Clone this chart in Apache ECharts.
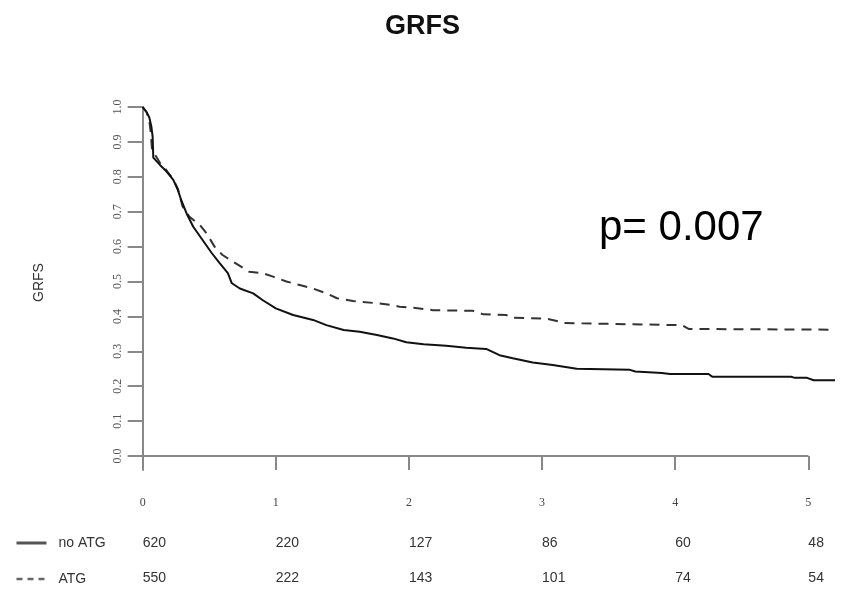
<!DOCTYPE html>
<html>
<head>
<meta charset="utf-8">
<script src="https://cdn.jsdelivr.net/npm/echarts@6/dist/echarts.min.js"></script>
<style>
  html, body { margin: 0; padding: 0; background: #fff; }
  #chart { width: 845px; height: 592px; }
</style>
</head>
<body>
<div id="chart"></div>
<script>
// survival curves (years, GRFS probability)
const noAtgTime = [0, 0.03, 0.05, 0.065, 0.075, 0.08, 0.13, 0.18, 0.23, 0.265, 0.29, 0.33, 0.38, 0.45, 0.52, 0.58, 0.64, 0.67, 0.73, 0.83, 0.90, 1.0, 1.13, 1.28, 1.38, 1.51, 1.63, 1.76, 1.88, 1.98, 2.11, 2.28, 2.43, 2.58, 2.68, 2.78, 2.93, 3.08, 3.26, 3.66, 3.70, 3.90, 3.96, 4.25, 4.28, 4.87, 4.90, 4.99, 5.04, 5.2];
const noAtgSurv = [1.0, 0.985, 0.97, 0.945, 0.915, 0.855, 0.834, 0.815, 0.791, 0.762, 0.733, 0.695, 0.657, 0.619, 0.581, 0.552, 0.524, 0.495, 0.480, 0.466, 0.447, 0.423, 0.404, 0.390, 0.375, 0.361, 0.356, 0.347, 0.337, 0.326, 0.320, 0.316, 0.310, 0.307, 0.289, 0.280, 0.268, 0.261, 0.250, 0.247, 0.242, 0.238, 0.235, 0.235, 0.227, 0.227, 0.224, 0.224, 0.217, 0.217];

const atgTime = [0, 0.03, 0.05, 0.06, 0.07, 0.09, 0.13, 0.18, 0.23, 0.265, 0.30, 0.35, 0.43, 0.48, 0.54, 0.60, 0.70, 0.80, 0.90, 0.98, 1.08, 1.18, 1.28, 1.38, 1.46, 1.58, 1.78, 1.86, 1.93, 2.08, 2.18, 2.48, 2.56, 2.73, 2.78, 3.03, 3.11, 3.16, 4.05, 4.10, 5.2];
const atgSurv = [1.0, 0.985, 0.96, 0.93, 0.88, 0.865, 0.84, 0.818, 0.793, 0.765, 0.715, 0.686, 0.662, 0.638, 0.600, 0.576, 0.552, 0.528, 0.524, 0.514, 0.500, 0.490, 0.480, 0.466, 0.452, 0.444, 0.437, 0.433, 0.428, 0.423, 0.418, 0.416, 0.406, 0.404, 0.396, 0.394, 0.387, 0.381, 0.375, 0.364, 0.362];

// axes and number-at-risk table
const xTicks = [0, 1, 2, 3, 4, 5];
const yTicks = [0, 0.1, 0.2, 0.3, 0.4, 0.5, 0.6, 0.7, 0.8, 0.9, 1.0];
const riskNoAtg = [620, 220, 127, 86, 60, 48];
const riskAtg = [550, 222, 143, 101, 74, 54];

const pair = (ts, ss) => ts.map((t, i) => [t, ss[i]]);

const chart = echarts.init(document.getElementById('chart'));

const xMin = -0.11, xMax = 5.2;
const riskAxis = (values, margin) => ({
    type: 'value', min: xMin, max: xMax, position: 'bottom',
    axisLine: { show: false, onZero: false },
    axisTick: { show: false },
    splitLine: { show: false },
    axisLabel: {
        customValues: xTicks, margin: margin, align: 'left',
        fontFamily: 'Liberation Sans', fontSize: 14, color: '#333',
        formatter: v => values[xTicks.indexOf(Math.round(v))]
    }
});

chart.setOption({
    animation: false,
    title: [
        { text: 'GRFS', left: 'center', top: 8,
          textStyle: { fontFamily: 'Liberation Sans', fontWeight: 'bold', fontSize: 27, color: '#111' } },
        { text: 'p= 0.007', left: 594, top: 202,
          textStyle: { fontFamily: 'Liberation Sans', fontWeight: 'normal', fontSize: 42, color: '#000' } }
    ],
    legend: {
        orient: 'vertical', left: 15, top: 536, padding: 0,
        itemWidth: 30, itemHeight: 14, itemGap: 22,
        textStyle: { fontFamily: 'Liberation Sans', fontSize: 14, color: '#333', padding: [0, 0, 0, 7] },
        data: [
            { name: 'no ATG', itemStyle: { opacity: 0 }, lineStyle: { color: '#555', width: 3, type: 'solid' } },
            { name: 'ATG', itemStyle: { opacity: 0 }, lineStyle: { color: '#666', width: 2.5, type: [6, 5] } }
        ]
    },
    grid: { left: 128, top: 107, width: 707, height: 363 },
    xAxis: [
        {
            type: 'value', min: xMin, max: xMax,
            axisLine: { show: false },
            axisTick: { show: true, customValues: xTicks, length: 14, lineStyle: { color: '#888', width: 2 } },
            splitLine: { show: false },
            axisLabel: { customValues: xTicks, margin: 27, fontFamily: 'Liberation Serif', fontSize: 12, color: '#444' }
        },
        riskAxis(riskNoAtg, 66),
        riskAxis(riskAtg, 101)
    ],
    yAxis: {
        type: 'value', min: -0.04, max: 1.0,
        name: 'GRFS', nameLocation: 'middle', nameGap: 82,
        nameTextStyle: { fontFamily: 'Liberation Sans', fontSize: 14, color: '#333', padding: [0, 0, 0, 12] },
        axisLine: { show: true, onZero: true, lineStyle: { color: '#888', width: 2 } },
        axisTick: { show: true, customValues: yTicks, length: 15, lineStyle: { color: '#888', width: 2 } },
        splitLine: { show: false },
        axisLabel: {
            customValues: yTicks, rotate: 90, margin: 4,
            fontFamily: 'Liberation Serif', fontSize: 12, color: '#555',
            formatter: v => v.toFixed(1)
        }
    },
    series: [
        {
            name: 'no ATG', type: 'line', data: pair(noAtgTime, noAtgSurv),
            symbol: 'none', lineStyle: { color: '#111', width: 2 }, itemStyle: { color: '#111' },
            z: 3,
            markLine: {
                silent: true, symbol: ['none', 'none'], label: { show: false },
                lineStyle: { color: '#888', width: 2, type: 'solid' },
                data: [[{ coord: [xMin, 0] }, { coord: [5, 0] }]]
            }
        },
        {
            name: 'ATG', type: 'line', data: pair(atgTime, atgSurv),
            symbol: 'none', lineStyle: { color: '#333', width: 2, type: [10, 7] }, itemStyle: { color: '#333' },
            z: 2
        }
    ]
});
</script>
</body>
</html>
